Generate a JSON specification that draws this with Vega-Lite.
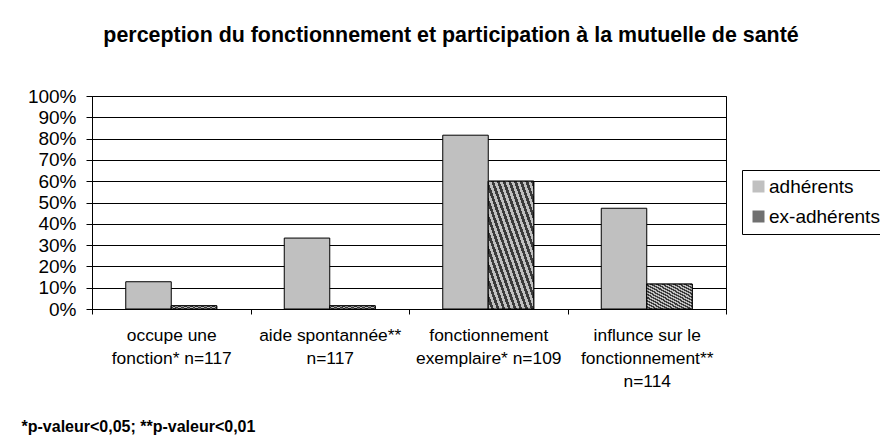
{
  "$schema": "https://vega.github.io/schema/vega-lite/v6.json",
  "width": 634,
  "height": 213,
  "autosize": {"type": "none"},
  "padding": {"left": 92, "top": 96, "right": 154, "bottom": 128},
  "background": "white",
  "title": {
    "text": "perception du fonctionnement et participation à la mutuelle de santé",
    "font": "Liberation Sans",
    "fontSize": 21.4,
    "fontWeight": "bold",
    "color": "black",
    "anchor": "middle",
    "frame": "group",
    "dx": 42,
    "offset": 24,
    "baseline": "alphabetic"
  },
  "data": {
    "values": [
      {"critere": "occupe une|fonction*  n=117", "groupe": "adhérents", "valeur": 0.128},
      {"critere": "occupe une|fonction*  n=117", "groupe": "ex-adhérents", "valeur": 0.015},
      {"critere": "aide spontannée**|n=117", "groupe": "adhérents", "valeur": 0.333},
      {"critere": "aide spontannée**|n=117", "groupe": "ex-adhérents", "valeur": 0.015},
      {"critere": "fonctionnement|exemplaire* n=109", "groupe": "adhérents", "valeur": 0.816},
      {"critere": "fonctionnement|exemplaire* n=109", "groupe": "ex-adhérents", "valeur": 0.6},
      {"critere": "influnce sur le|fonctionnement**|n=114", "groupe": "adhérents", "valeur": 0.473},
      {"critere": "influnce sur le|fonctionnement**|n=114", "groupe": "ex-adhérents", "valeur": 0.117}
    ]
  },
  "encoding": {
    "x": {
      "field": "critere",
      "type": "nominal",
      "sort": null,
      "scale": {"paddingInner": 0, "paddingOuter": 0},
      "axis": {
        "title": "*p-valeur<0,05; **p-valeur<0,01",
        "titleFont": "Liberation Sans",
        "titleFontSize": 16,
        "titleFontWeight": "bold",
        "titleColor": "black",
        "titleX": -71,
        "titleY": 122,
        "titleAlign": "left",
        "titleBaseline": "alphabetic",
        "labelExpr": "isValid(datum.value) ? split(datum.value, '|') : ''",
        "labelAngle": 0,
        "labelBaseline": "top",
        "labelLineHeight": 23,
        "labelFont": "Liberation Sans",
        "labelFontSize": 17.4,
        "labelColor": "black",
        "labelPadding": 12,
        "labelLimit": 300,
        "tickSize": 5,
        "tickColor": "black",
        "domainColor": "black",
        "tickBand": "extent"
      }
    },
    "xOffset": {
      "field": "groupe",
      "type": "nominal",
      "scale": {"domain": ["adhérents", "ex-adhérents"], "paddingInner": 0, "paddingOuter": 0.742}
    },
    "y": {
      "field": "valeur",
      "type": "quantitative",
      "scale": {"domain": [0, 1]},
      "axis": {
        "values": [0, 0.1, 0.2, 0.3, 0.4, 0.5, 0.6, 0.7, 0.8, 0.9, 1],
        "format": ".0%",
        "title": null,
        "grid": true,
        "gridColor": "black",
        "gridOpacity": 1,
        "gridWidth": 1,
        "domainColor": "black",
        "tickColor": "black",
        "tickSize": 6,
        "labelFont": "Liberation Sans",
        "labelFontSize": 19,
        "labelColor": "black",
        "labelPadding": 10
      }
    }
  },
  "layer": [
    {
      "mark": {"type": "bar", "stroke": "black", "strokeWidth": 1, "opacity": 1},
      "encoding": {
        "color": {
          "field": "groupe",
          "type": "nominal",
          "scale": {"domain": ["adhérents", "ex-adhérents"], "range": ["#c0c0c0", "#707070"]},
          "legend": {
            "orient": "none",
            "legendX": 650,
            "legendY": 74,
            "title": null,
            "strokeColor": "black",
            "fillColor": "white",
            "padding": 7,
            "labelFont": "Liberation Sans",
            "labelFontSize": 19,
            "labelColor": "black",
            "labelOffset": 1,
            "labelLimit": 300,
            "symbolType": "square",
            "symbolSize": 144,
            "symbolStrokeColor": "black",
            "symbolStrokeWidth": 1,
            "symbolOpacity": 1,
            "rowPadding": 10,
            "encode": {
              "symbols": {
                "update": {
                  "fill": [
                    {
                      "test": "datum.label === 'ex-adhérents'",
                      "value": {
                        "gradient": "linear",
                        "x1": 0, "y1": 1, "x2": 1, "y2": 0,
                        "stops": [
                          {"offset": 0, "color": "#c0c0c0"}, {"offset": 0.125, "color": "#c0c0c0"}, {"offset": 0.125, "color": "#3a3a3a"}, {"offset": 0.25, "color": "#3a3a3a"},
                          {"offset": 0.25, "color": "#c0c0c0"}, {"offset": 0.375, "color": "#c0c0c0"}, {"offset": 0.375, "color": "#3a3a3a"}, {"offset": 0.5, "color": "#3a3a3a"},
                          {"offset": 0.5, "color": "#c0c0c0"}, {"offset": 0.625, "color": "#c0c0c0"}, {"offset": 0.625, "color": "#3a3a3a"}, {"offset": 0.75, "color": "#3a3a3a"},
                          {"offset": 0.75, "color": "#c0c0c0"}, {"offset": 0.875, "color": "#c0c0c0"}, {"offset": 0.875, "color": "#3a3a3a"}, {"offset": 1, "color": "#3a3a3a"}
                        ]
                      }
                    },
                    {"value": "#c0c0c0"}
                  ]
                }
              }
            }
          }
        }
      }
    },
    {
      "transform": [{"filter": "datum.groupe === 'ex-adhérents'"}],
      "mark": {
        "type": "bar",
        "stroke": "black",
        "strokeWidth": 1,
        "opacity": 1,
        "fill": {
          "gradient": "linear",
          "x1": 0, "y1": 1, "x2": 1, "y2": 0,
          "stops": [
            {"offset": 0, "color": "#c0c0c0"}, {"offset": 0.03125, "color": "#c0c0c0"}, {"offset": 0.03125, "color": "#3a3a3a"}, {"offset": 0.0625, "color": "#3a3a3a"},
            {"offset": 0.0625, "color": "#c0c0c0"}, {"offset": 0.09375, "color": "#c0c0c0"}, {"offset": 0.09375, "color": "#3a3a3a"}, {"offset": 0.125, "color": "#3a3a3a"},
            {"offset": 0.125, "color": "#c0c0c0"}, {"offset": 0.15625, "color": "#c0c0c0"}, {"offset": 0.15625, "color": "#3a3a3a"}, {"offset": 0.1875, "color": "#3a3a3a"},
            {"offset": 0.1875, "color": "#c0c0c0"}, {"offset": 0.21875, "color": "#c0c0c0"}, {"offset": 0.21875, "color": "#3a3a3a"}, {"offset": 0.25, "color": "#3a3a3a"},
            {"offset": 0.25, "color": "#c0c0c0"}, {"offset": 0.28125, "color": "#c0c0c0"}, {"offset": 0.28125, "color": "#3a3a3a"}, {"offset": 0.3125, "color": "#3a3a3a"},
            {"offset": 0.3125, "color": "#c0c0c0"}, {"offset": 0.34375, "color": "#c0c0c0"}, {"offset": 0.34375, "color": "#3a3a3a"}, {"offset": 0.375, "color": "#3a3a3a"},
            {"offset": 0.375, "color": "#c0c0c0"}, {"offset": 0.40625, "color": "#c0c0c0"}, {"offset": 0.40625, "color": "#3a3a3a"}, {"offset": 0.4375, "color": "#3a3a3a"},
            {"offset": 0.4375, "color": "#c0c0c0"}, {"offset": 0.46875, "color": "#c0c0c0"}, {"offset": 0.46875, "color": "#3a3a3a"}, {"offset": 0.5, "color": "#3a3a3a"},
            {"offset": 0.5, "color": "#c0c0c0"}, {"offset": 0.53125, "color": "#c0c0c0"}, {"offset": 0.53125, "color": "#3a3a3a"}, {"offset": 0.5625, "color": "#3a3a3a"},
            {"offset": 0.5625, "color": "#c0c0c0"}, {"offset": 0.59375, "color": "#c0c0c0"}, {"offset": 0.59375, "color": "#3a3a3a"}, {"offset": 0.625, "color": "#3a3a3a"},
            {"offset": 0.625, "color": "#c0c0c0"}, {"offset": 0.65625, "color": "#c0c0c0"}, {"offset": 0.65625, "color": "#3a3a3a"}, {"offset": 0.6875, "color": "#3a3a3a"},
            {"offset": 0.6875, "color": "#c0c0c0"}, {"offset": 0.71875, "color": "#c0c0c0"}, {"offset": 0.71875, "color": "#3a3a3a"}, {"offset": 0.75, "color": "#3a3a3a"},
            {"offset": 0.75, "color": "#c0c0c0"}, {"offset": 0.78125, "color": "#c0c0c0"}, {"offset": 0.78125, "color": "#3a3a3a"}, {"offset": 0.8125, "color": "#3a3a3a"},
            {"offset": 0.8125, "color": "#c0c0c0"}, {"offset": 0.84375, "color": "#c0c0c0"}, {"offset": 0.84375, "color": "#3a3a3a"}, {"offset": 0.875, "color": "#3a3a3a"},
            {"offset": 0.875, "color": "#c0c0c0"}, {"offset": 0.90625, "color": "#c0c0c0"}, {"offset": 0.90625, "color": "#3a3a3a"}, {"offset": 0.9375, "color": "#3a3a3a"},
            {"offset": 0.9375, "color": "#c0c0c0"}, {"offset": 0.96875, "color": "#c0c0c0"}, {"offset": 0.96875, "color": "#3a3a3a"}, {"offset": 1, "color": "#3a3a3a"}
          ]
        }
      }
    }
  ],
  "config": {
    "view": {"stroke": "black", "strokeWidth": 1},
    "font": "Liberation Sans"
  }
}
